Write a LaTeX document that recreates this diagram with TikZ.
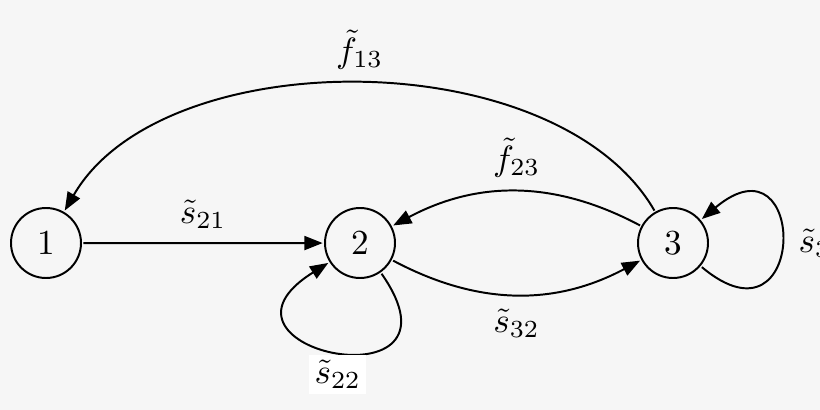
\documentclass[tikz,border=0pt]{standalone}
\usepackage{amsmath}
\usepackage{amssymb}
\usepackage{tikz}
\usetikzlibrary{arrows.meta, positioning}
\definecolor{bgcol}{HTML}{F6F6F6}

\begin{document}
\begin{tikzpicture}[line width=1.4pt, scale=2.5, every node/.style={scale=2.5},
    >={Triangle[length=13pt,width=10pt]},
    state/.style={draw, circle, minimum size=0.7cm, inner sep=0pt}]
    \useasboundingbox (0,0) rectangle (8.2,-4.1);
    \fill[bgcol] (0,0) rectangle (8.2,-4.1);

    \node[state] (n1) at (0.46,-2.43) {1};
    \node[state] (n2) at (3.6,-2.43) {2};
    \node[state] (n3) at (6.73,-2.43) {3};

    \draw[->] (n1) -- node[above] {$\tilde{s}_{21}$} (n2);
    \draw[->] (n3) to[out=120, in=60, looseness=0.85] node[above] {$\tilde{f}_{13}$} (n1);
    \draw[->] (n3) to[bend right=28] node[above] {$\tilde{f}_{23}$} (n2);
    \draw[->] (n2) to[bend right=28] node[below] {$\tilde{s}_{32}$} (n3);

    \draw[->] (n2) to[out=-55, in=212, looseness=7.8]
        node[below, fill=white, inner sep=1.5pt] {$\tilde{s}_{22}$} (n2);
    \draw[->] (n3) to[out=-40, in=40, looseness=7.4]
        node[right=2pt] {$\tilde{s}_{33}$} (n3);
\end{tikzpicture}
\end{document}
